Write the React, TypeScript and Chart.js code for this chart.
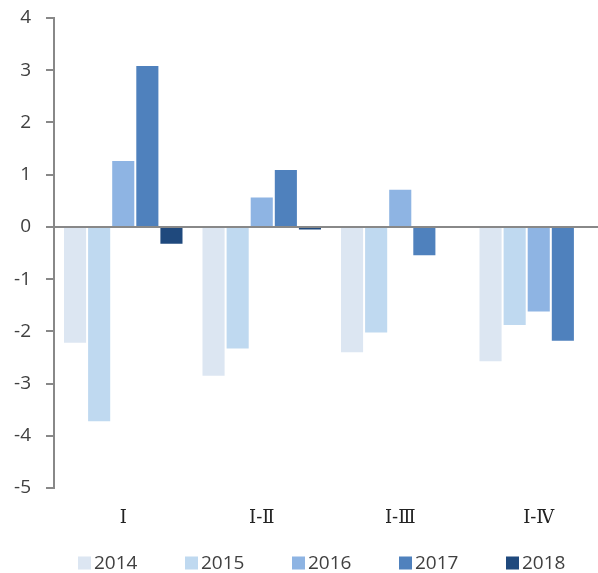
import React, { useEffect, useRef } from "react";
import { Chart, registerables } from "chart.js";

Chart.register(...registerables);

const categories = ["I", "I-Ⅱ", "I-Ⅲ", "I-Ⅳ"];
const seriesNames = ["2014", "2015", "2016", "2017", "2018"];
const values2014 = [-2.24, -2.87, -2.42, -2.59];
const values2015 = [-3.74, -2.35, -2.04, -1.9];
const values2016 = [1.28, 0.58, 0.73, -1.64];
const values2017 = [3.1, 1.11, -0.56, -2.2];
const values2018 = [-0.34, -0.07, null, null];
const yTicks = [4, 3, 2, 1, 0, -1, -2, -3, -4, -5];

const colors = ["#DCE6F2", "#BFD9F0", "#8EB4E3", "#4F81BD", "#1F497D"];
const allValues = [values2014, values2015, values2016, values2017, values2018];

const W = 644;
const H = 573;

const bottomLegend = {
  id: "bottomLegend",
  afterDraw(chart: any) {
    const ctx = chart.ctx;
    const items = chart.data.datasets;
    const box = 13;
    const step = 107;
    const total = step * (items.length - 1) + box + 4 + 43;
    const startX = chart.width / 2 - total / 2;
    const cy = 563;
    ctx.save();
    ctx.font = "19px 'Open Sans', sans-serif";
    ctx.textBaseline = "middle";
    ctx.textAlign = "left";
    items.forEach((ds: any, i: number) => {
      const x = startX + i * step;
      ctx.fillStyle = ds.backgroundColor;
      ctx.fillRect(x, cy - box / 2, box, box);
      ctx.fillStyle = "#404040";
      ctx.fillText(ds.label, x + box + 3, cy + 1);
    });
    ctx.restore();
  },
};

export default function App() {
  const ref = useRef<HTMLCanvasElement | null>(null);
  useEffect(() => {
    if (!ref.current) return;
    document.body.style.margin = "0";
    const chart = new Chart(ref.current, {
      type: "bar",
      data: {
        labels: categories,
        datasets: seriesNames.map((name, i) => ({
          label: name,
          data: allValues[i],
          backgroundColor: colors[i],
          borderColor: "#ffffff",
          borderWidth: 1,
          categoryPercentage: 0.87,
          barPercentage: 1.0,
        })),
      },
      options: {
        responsive: false,
        animation: false,
        maintainAspectRatio: false,
        layout: { padding: { top: 18, right: 36, bottom: 0, left: 0 } },
        plugins: {
          legend: { display: false },
          tooltip: { enabled: false },
          title: { display: false },
        },
        scales: {
          x: {
            afterFit: (s: any) => {
              s.height = 85;
              s.paddingLeft = 0;
              s.paddingRight = 0;
            },
            grid: { display: false, drawTicks: false },
            border: { display: false },
            ticks: {
              color: "#222",
              padding: 20,
              font: { size: 18, family: "'DejaVu Serif', 'Liberation Serif', serif" },
            },
          },
          y: {
            min: -5,
            max: 4,
            afterFit: (s: any) => {
              s.width = 54;
              s.paddingTop = 0;
              s.paddingBottom = 0;
            },
            afterBuildTicks: (s: any) => {
              s.ticks = yTicks.map((v) => ({ value: v }));
            },
            border: { display: true, color: "#888", width: 2 },
            grid: {
              color: (c: any) => (c.tick && c.tick.value === 0 ? "#888" : "rgba(0,0,0,0)"),
              lineWidth: 2,
              tickColor: "#888",
              tickLength: 8,
              drawTicks: true,
            },
            ticks: {
              color: "#404040",
              padding: 15,
              font: { size: 19, family: "'Open Sans', sans-serif" },
            },
          },
        },
      },
      plugins: [bottomLegend],
    });
    return () => chart.destroy();
  }, []);
  return (
    <div style={{ width: 598, height: H, overflow: "hidden", position: "relative", background: "#fff" }}>
      <canvas ref={ref} width={W} height={H} style={{ width: W, height: H, display: "block" }} />
    </div>
  );
}
